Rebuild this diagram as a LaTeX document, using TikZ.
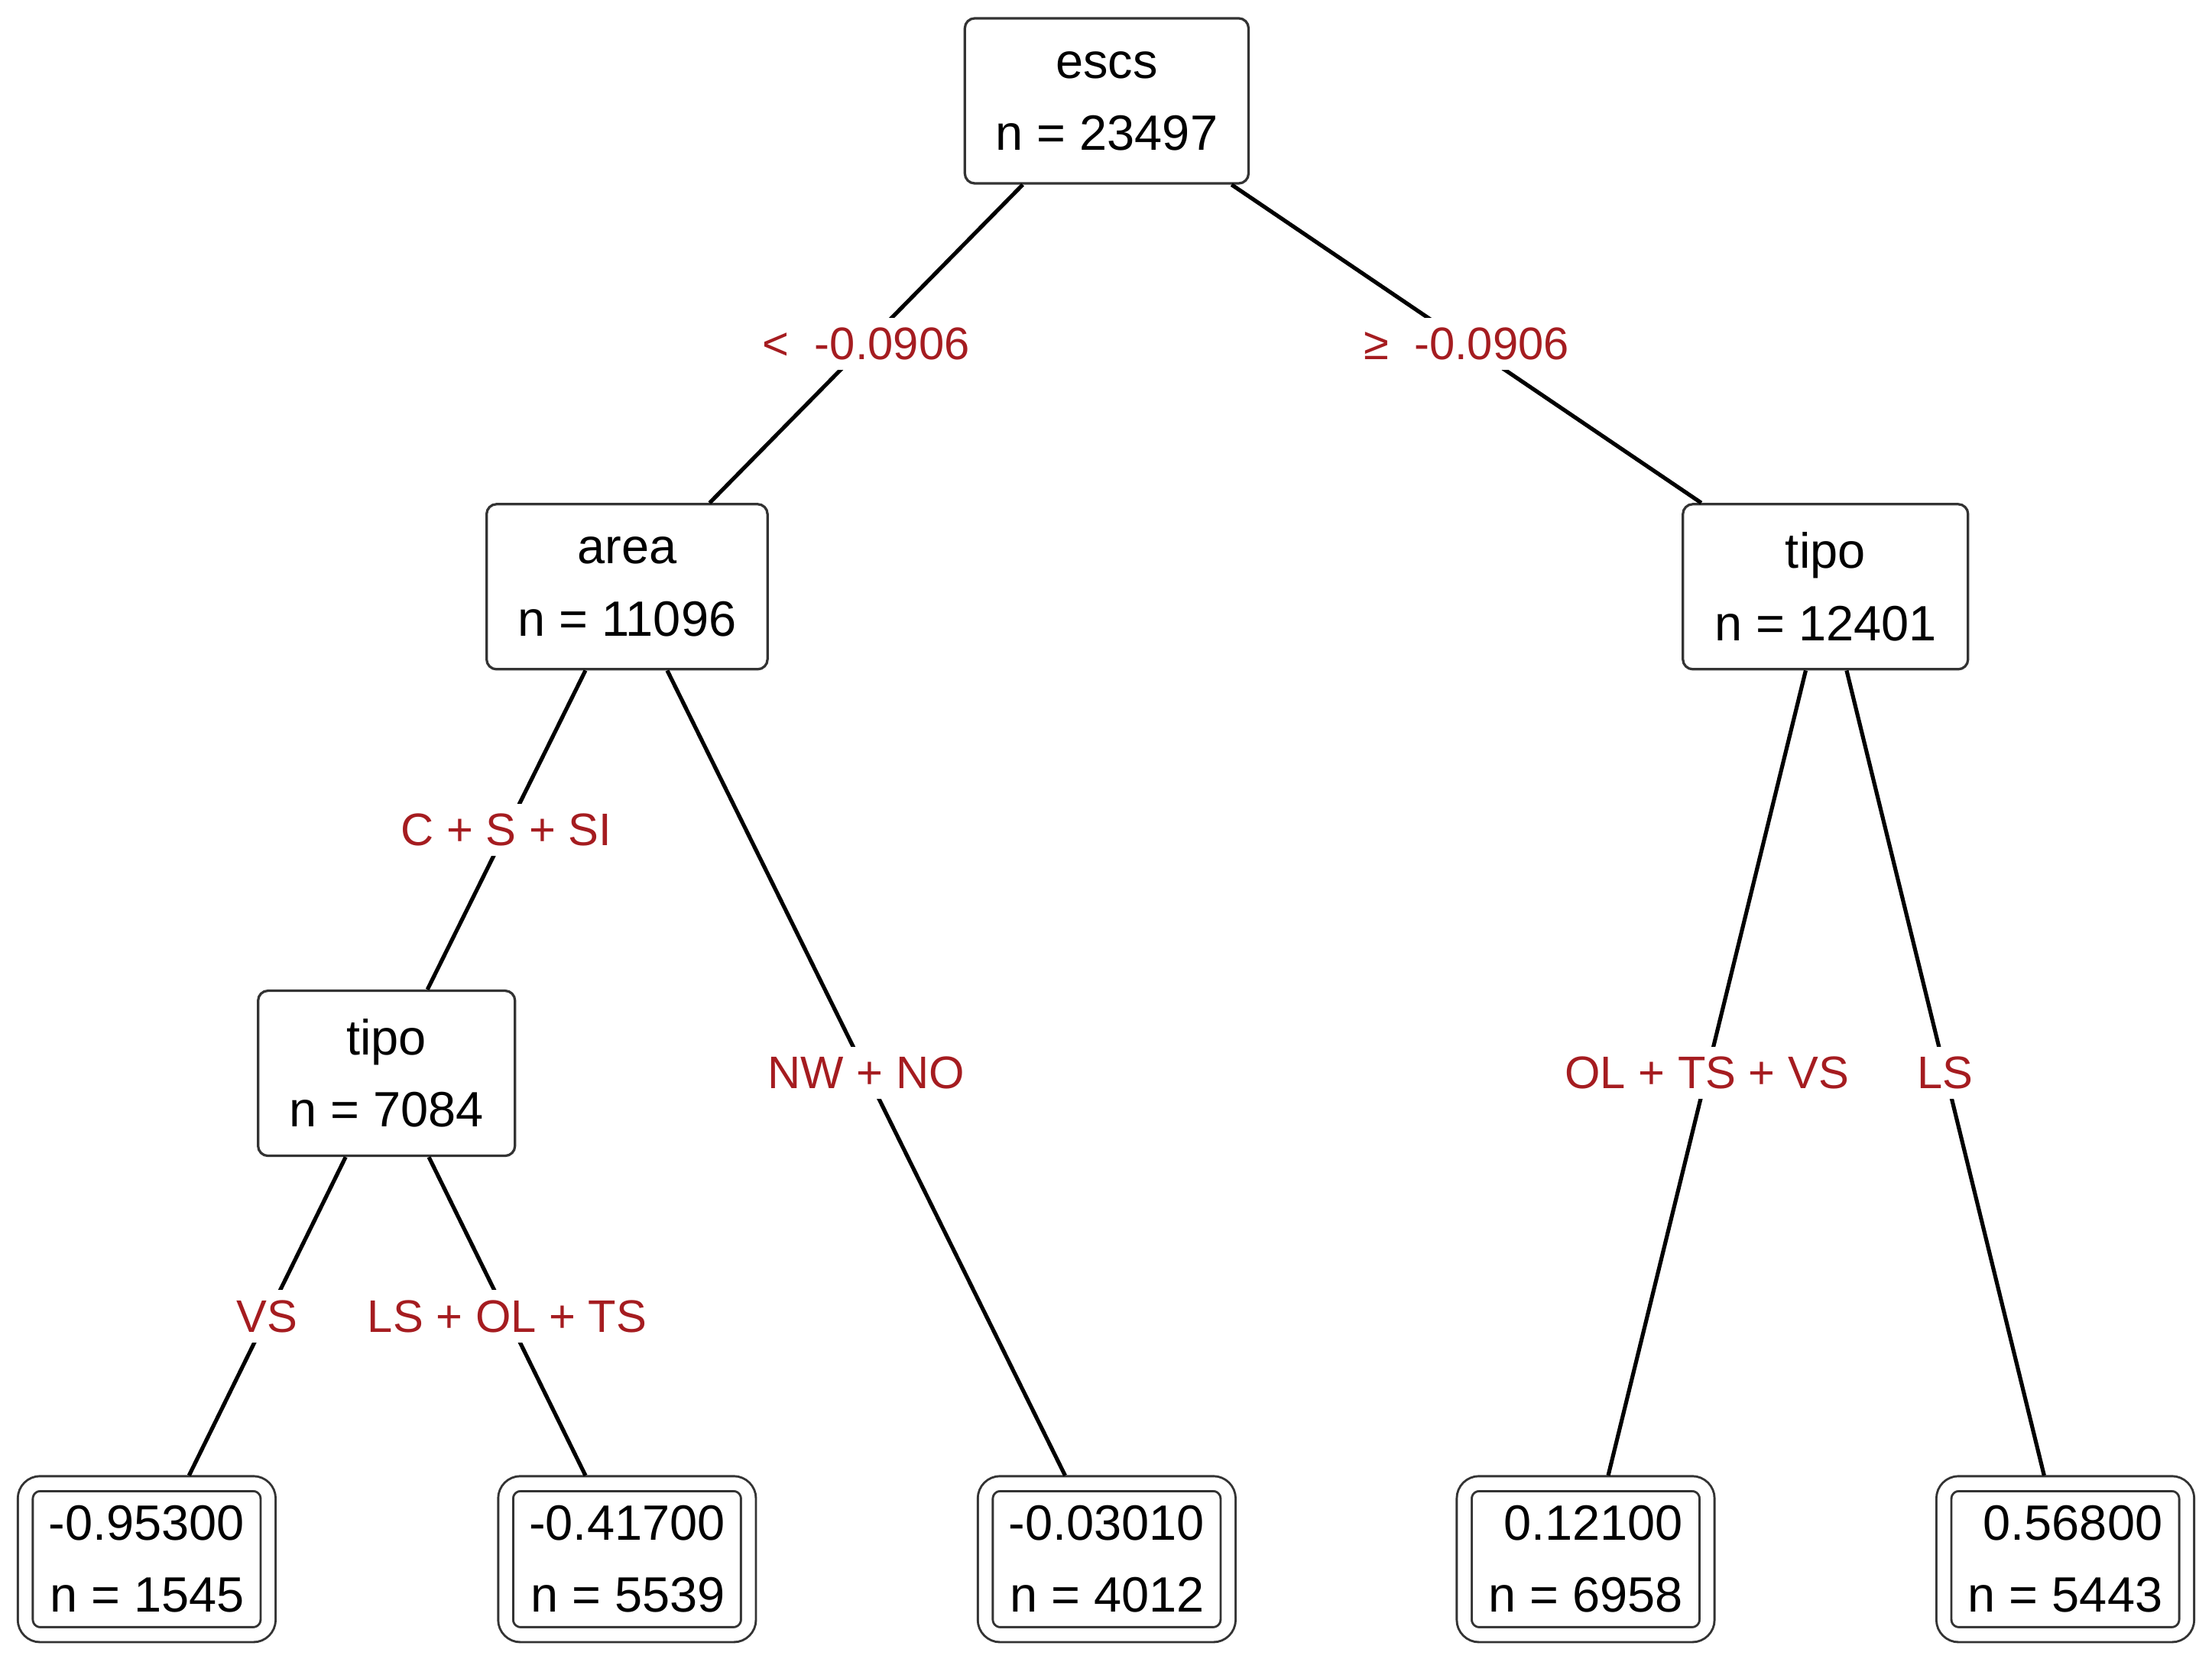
\documentclass[tikz,border=0pt]{standalone}
\usepackage{fontspec}
\setmainfont{Liberation Sans}
\usetikzlibrary{calc}
\definecolor{lab}{RGB}{165,28,32}
\begin{document}
\begin{tikzpicture}[x=0.01cm,y=-0.01cm,
  inner/.style={draw=black!80,line width=0.5pt,rounded corners=2pt,minimum width=2.01cm,minimum height=1.17cm,align=center,font=\fontsize{10}{14.5}\selectfont,inner sep=0pt},
  leaf/.style={draw=black!80,line width=0.45pt,double=white,double distance=0.09cm,rounded corners=3pt,minimum width=1.72cm,minimum height=1.07cm,align=right,font=\fontsize{10}{14.5}\selectfont,inner sep=0pt},
  edge/.style={line width=0.8pt},
  lbl/.style={fill=white,text=lab,font=\fontsize{9.2}{11}\selectfont,inner sep=2pt}]
\useasboundingbox (0,0) rectangle (1568,1178);
\node[inner] (escs) at (784.5,71.5) {escs\\n = 23497};
\node[inner,minimum width=1.99cm] (area) at (444.5,416) {area\\n = 11096};
\node[inner,minimum width=2.02cm] (tipoR) at (1294,416) {tipo\\n = 12401};
\node[inner,minimum width=1.82cm] (tipoL) at (274,761) {tipo\\n = 7084};
\node[leaf] (l1) at (104,1105.5) {-0.95300\\n = 1545};
\node[leaf] (l2) at (444.5,1105.5) {-0.41700\\n = 5539};
\node[leaf] (l3) at (784.5,1105.5) {-0.03010\\n = 4012};
\node[leaf] (l4) at (1124,1105.5) {0.12100\\n = 6958};
\node[leaf] (l5) at (1464,1105.5) {0.56800\\n = 5443};
\draw[edge] ($(escs.south)+(-59.5,0)$) -- node[lbl]{<\ \ -0.0906} ($(area.north)+(58.5,0)$);
\draw[edge] ($(escs.south)+(88.5,0)$) -- node[lbl]{≥\ \ -0.0906} ($(tipoR.north)+(-88,0)$);
\draw[edge] ($(area.south)+(-29.5,0)$) -- node[lbl]{C + S + SI} ($(tipoL.north)+(29,0)$);
\draw[edge] ($(area.south)+(28.5,0)$) -- node[lbl]{NW + NO} ($(l3.north)+(-29.5,-5)$);
\draw[edge] ($(tipoR.south)+(-14,0)$) -- node[lbl]{OL + TS + VS} ($(l4.north)+(16,-5)$);
\draw[edge] ($(tipoR.south)+(15,0)$) -- node[lbl]{LS} ($(l5.north)+(-15,-5)$);
\draw[edge] ($(tipoL.south)+(-29,0)$) -- node[lbl]{VS} ($(l1.north)+(30,-5)$);
\draw[edge] ($(tipoL.south)+(30,0)$) -- node[lbl]{LS + OL + TS} ($(l2.north)+(-29.5,-5)$);
\end{tikzpicture}
\end{document}
